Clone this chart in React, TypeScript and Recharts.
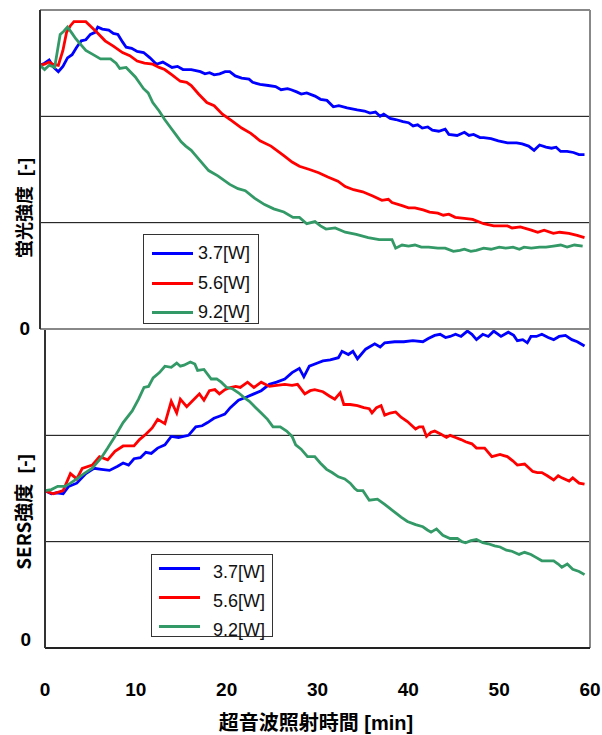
import React from 'react';
import { LineChart, Line, XAxis, YAxis, ReferenceLine } from 'recharts';

// ---- shared labels / categories ----
const timeTicks = [0, 10, 20, 30, 40, 50, 60];
const gridValues = [1, 2];
const seriesNames = ['3.7[W]', '5.6[W]', '9.2[W]'];
const seriesColors = ['#0000FF', '#FF0000', '#339966'];
const xTitle = '超音波照射時間 [min]';
const yTitleTop = '蛍光強度';
const yTitleBottom = 'SERS強度';
const yUnit = '[-]';

// ---- fluorescence intensity (top panel): [time min, value] ----
const fluor37: [number, number][] = [
  [0, 2.48], [0.5, 2.5], [1, 2.53], [1.5, 2.46], [2, 2.42], [2.5, 2.47], [3, 2.55], [3.5, 2.58], [4, 2.65], [4.5, 2.71],
  [5, 2.72], [5.5, 2.77], [6, 2.79], [6.3, 2.84], [6.8, 2.82], [7.5, 2.81], [8, 2.78], [8.5, 2.77], [9, 2.7], [9.4, 2.65],
  [10, 2.64], [10.6, 2.61], [11.3, 2.6], [12, 2.55], [12.7, 2.49], [13.4, 2.51], [14.4, 2.46], [15, 2.47], [15.6, 2.44], [16.5, 2.44],
  [17.5, 2.42], [18, 2.4], [18.5, 2.41], [19, 2.39], [19.6, 2.4], [20.2, 2.42], [20.7, 2.42], [21.3, 2.38], [22, 2.36], [22.8, 2.35],
  [23.2, 2.32], [24, 2.3], [24.9, 2.29], [25.7, 2.28], [26.3, 2.25], [27, 2.26], [27.4, 2.25], [28, 2.23], [28.5, 2.21], [29.1, 2.22],
  [30, 2.19], [30.6, 2.16], [31.3, 2.15], [32, 2.09], [32.6, 2.1], [33.5, 2.08], [34.6, 2.06], [35.4, 2.05], [36, 2.03], [36.6, 2.04],
  [37.1, 2.0], [37.5, 2.02], [38.2, 1.98], [38.8, 1.97], [39.6, 1.95], [40.2, 1.94], [40.7, 1.91], [41.2, 1.92], [41.7, 1.89], [42.3, 1.9],
  [42.8, 1.87], [43.5, 1.86], [44.2, 1.88], [44.6, 1.83], [45.5, 1.82], [46.3, 1.85], [46.8, 1.82], [47.3, 1.83], [48, 1.8], [48.4, 1.8],
  [49.2, 1.79], [50, 1.77], [51, 1.75], [52, 1.75], [52.6, 1.74], [53.3, 1.72], [53.9, 1.68], [54.5, 1.73], [55.2, 1.71], [55.8, 1.7],
  [56.3, 1.71], [56.8, 1.67], [57.5, 1.67], [58.2, 1.66], [58.8, 1.64], [59.4, 1.64],
];
const fluor56: [number, number][] = [
  [0, 2.48], [0.5, 2.49], [1, 2.51], [1.4, 2.49], [2, 2.48], [2.5, 2.62], [2.9, 2.79], [3.3, 2.85], [3.7, 2.89], [4.4, 2.89],
  [5, 2.89], [5.6, 2.84], [6.2, 2.79], [7.1, 2.71], [8, 2.66], [9, 2.6], [9.8, 2.57], [10.6, 2.52], [11.4, 2.5], [12.3, 2.49],
  [13, 2.46], [13.6, 2.44], [14.4, 2.39], [15.3, 2.33], [16, 2.32], [16.5, 2.29], [17.3, 2.21], [18.2, 2.13], [19, 2.1], [19.9, 2.02],
  [20.9, 1.96], [22, 1.89], [23, 1.84], [24, 1.77], [25.2, 1.72], [26.6, 1.63], [27.5, 1.57], [28.3, 1.53], [29.4, 1.5], [30.4, 1.47],
  [31.4, 1.43], [32.5, 1.39], [33.3, 1.34], [34.2, 1.31], [35.2, 1.29], [36.3, 1.25], [37.3, 1.21], [38, 1.22], [38.4, 1.19], [39.5, 1.16],
  [40.2, 1.14], [40.9, 1.14], [41.8, 1.12], [42.5, 1.1], [43.4, 1.09], [44, 1.07], [44.6, 1.08], [45.3, 1.05], [46.3, 1.04], [47.2, 1.03],
  [48.4, 0.99], [49.5, 0.97], [51, 0.97], [51.5, 0.95], [52.4, 0.96], [53.6, 0.93], [54.3, 0.91], [55, 0.93], [56, 0.9], [56.7, 0.91],
  [57.7, 0.9], [58.6, 0.88], [59.4, 0.86],
];
const fluor92: [number, number][] = [
  [0, 2.48], [0.5, 2.44], [1, 2.48], [1.6, 2.46], [2.2, 2.77], [2.6, 2.8], [3, 2.84], [3.5, 2.78], [3.9, 2.73], [4.5, 2.67],
  [5, 2.62], [5.8, 2.58], [6.6, 2.54], [7.7, 2.54], [8.3, 2.5], [8.7, 2.45], [9.4, 2.46], [10.4, 2.37], [11.3, 2.26], [11.8, 2.22],
  [12.3, 2.13], [13, 2.05], [13.6, 1.97], [14.2, 1.9], [14.8, 1.83], [15.4, 1.76], [15.9, 1.72], [16.5, 1.68], [16.9, 1.64], [17.6, 1.57],
  [18.4, 1.49], [19.4, 1.44], [20.7, 1.36], [21.6, 1.32], [22.4, 1.3], [23.4, 1.23], [24.5, 1.17], [25.5, 1.13], [26.6, 1.1], [27.6, 1.05],
  [28.3, 1.05], [29.1, 0.99], [30, 1.01], [30.6, 0.97], [31.2, 0.94], [32.2, 0.95], [33.3, 0.91], [34.5, 0.89], [35.8, 0.86], [37, 0.84],
  [38.4, 0.84], [38.8, 0.76], [39.5, 0.79], [40.2, 0.78], [40.9, 0.79], [41.6, 0.77], [42.4, 0.77], [43.4, 0.76], [44.2, 0.76], [45.1, 0.73],
  [45.8, 0.74], [46.3, 0.75], [47, 0.73], [47.6, 0.74], [48.4, 0.76], [49.2, 0.75], [50.1, 0.77], [50.8, 0.76], [51.6, 0.77], [52.3, 0.75],
  [52.8, 0.77], [53.6, 0.76], [54.5, 0.77], [55.2, 0.77], [56, 0.78], [56.8, 0.79], [57.5, 0.77], [58.3, 0.79], [59.2, 0.78],
];

// ---- SERS intensity (bottom panel): [time min, value] ----
const sers37: [number, number][] = [
  [0, 1.48], [0.7, 1.45], [1.3, 1.46], [2, 1.45], [2.6, 1.52], [3.5, 1.55], [4.5, 1.64], [5.4, 1.69], [6.2, 1.68], [7.1, 1.67],
  [8, 1.71], [8.6, 1.74], [9.2, 1.72], [9.8, 1.78], [10.5, 1.79], [11.1, 1.84], [11.7, 1.83], [12.4, 1.88], [13.2, 1.91], [13.9, 1.99],
  [14.7, 1.98], [15.8, 2.0], [16.6, 2.08], [17.3, 2.09], [17.9, 2.12], [18.6, 2.16], [19.2, 2.18], [19.8, 2.2], [20.4, 2.26], [21.3, 2.33],
  [22.2, 2.36], [23, 2.39], [23.8, 2.42], [24.7, 2.48], [25.5, 2.5], [26.4, 2.53], [27.2, 2.59], [28, 2.63], [28.5, 2.55], [29.1, 2.65],
  [30, 2.68], [30.6, 2.7], [31.4, 2.71], [32.3, 2.73], [32.7, 2.79], [33.4, 2.76], [33.9, 2.79], [34.4, 2.72], [35.3, 2.81], [36.3, 2.86],
  [36.9, 2.83], [37.4, 2.87], [38.5, 2.88], [39.5, 2.88], [40.5, 2.89], [41.6, 2.88], [42.2, 2.91], [42.9, 2.94], [43.5, 2.95], [44.1, 2.92],
  [44.6, 2.93], [45.2, 2.95], [45.8, 2.93], [46.5, 2.98], [47, 2.95], [47.5, 2.9], [48.2, 2.95], [48.8, 2.93], [49.4, 2.98], [50.2, 2.93],
  [51, 2.97], [51.6, 2.94], [52, 2.89], [52.6, 2.9], [53.1, 2.87], [53.5, 2.93], [54.1, 2.93], [54.7, 2.95], [55.4, 2.92], [56, 2.9],
  [56.6, 2.93], [57.3, 2.94], [58, 2.9], [58.6, 2.88], [59.4, 2.84],
];
const sers56: [number, number][] = [
  [0, 1.48], [0.9, 1.45], [2, 1.48], [2.8, 1.64], [3.5, 1.59], [4.1, 1.69], [5.2, 1.72], [6, 1.8], [6.9, 1.77], [7.7, 1.85],
  [8.6, 1.9], [9.8, 1.9], [10.4, 1.96], [11.1, 2.01], [11.8, 2.07], [12.4, 2.15], [13.2, 2.11], [13.9, 2.32], [14.5, 2.21], [14.9, 2.34],
  [15.6, 2.27], [16.3, 2.33], [17, 2.39], [17.5, 2.33], [18.1, 2.42], [18.7, 2.43], [19.2, 2.39], [19.8, 2.43], [20.4, 2.45], [21, 2.46],
  [21.5, 2.45], [22.3, 2.5], [23, 2.45], [23.8, 2.5], [24.7, 2.46], [25.5, 2.47], [26.4, 2.48], [27.2, 2.47], [27.8, 2.48], [28.6, 2.39],
  [29.2, 2.42], [29.7, 2.43], [30.6, 2.41], [31.3, 2.37], [31.9, 2.34], [32.5, 2.4], [32.9, 2.29], [33.6, 2.29], [34.4, 2.28], [35.1, 2.26],
  [35.7, 2.25], [36, 2.21], [36.5, 2.26], [37, 2.28], [37.4, 2.19], [38, 2.21], [38.6, 2.22], [39.2, 2.17], [39.9, 2.13], [40.8, 2.06],
  [41.2, 2.08], [41.6, 2.08], [42, 1.99], [42.5, 2.03], [42.9, 2.04], [43.6, 2.01], [44.2, 1.98], [44.6, 2.0], [45.2, 1.98], [45.8, 1.96],
  [46.3, 1.94], [47, 1.92], [47.5, 1.88], [48.4, 1.88], [49.2, 1.8], [50.1, 1.82], [50.5, 1.81], [50.9, 1.8], [51.5, 1.76], [52, 1.72],
  [52.8, 1.73], [53.7, 1.66], [54.2, 1.65], [54.7, 1.65], [55.3, 1.62], [56, 1.58], [56.5, 1.62], [56.9, 1.6], [57.7, 1.57], [58.1, 1.6],
  [58.8, 1.55], [59.4, 1.54],
];
const sers92: [number, number][] = [
  [0, 1.48], [0.7, 1.49], [1.4, 1.52], [2.2, 1.52], [2.8, 1.55], [3.5, 1.59], [4.3, 1.64], [5.2, 1.69], [6.2, 1.79], [6.9, 1.88],
  [7.7, 1.99], [8.6, 2.12], [9.6, 2.23], [10.3, 2.34], [10.9, 2.45], [11.4, 2.46], [11.9, 2.54], [12.6, 2.59], [13.2, 2.65], [13.9, 2.64],
  [14.5, 2.68], [14.9, 2.65], [15.3, 2.66], [16, 2.69], [16.5, 2.67], [16.8, 2.61], [17.5, 2.62], [18.3, 2.53], [18.9, 2.53], [19.4, 2.5],
  [20, 2.45], [20.6, 2.44], [21.3, 2.4], [22, 2.35], [22.5, 2.32], [23.2, 2.26], [23.8, 2.21], [24.5, 2.15], [25.1, 2.08], [25.9, 2.08],
  [26.6, 2.04], [27.2, 1.99], [27.6, 1.91], [28.2, 1.87], [28.9, 1.8], [29.7, 1.8], [30.3, 1.74], [31, 1.68], [31.6, 1.65], [32.3, 1.61],
  [33, 1.59], [33.6, 1.55], [34.1, 1.5], [34.4, 1.48], [35, 1.48], [35.7, 1.39], [36.6, 1.4], [37.4, 1.35], [38, 1.31], [38.6, 1.27],
  [39.2, 1.23], [39.9, 1.19], [40.8, 1.16], [41.6, 1.14], [42.1, 1.11], [42.5, 1.09], [43.1, 1.12], [43.8, 1.06], [44.6, 1.03], [45.4, 1.03],
  [45.9, 1.0], [46.3, 0.99], [46.9, 1.01], [47.5, 1.02], [48.2, 0.99], [48.8, 0.98], [49.5, 0.96], [50.1, 0.95], [50.8, 0.92], [51.4, 0.91],
  [52.2, 0.88], [52.8, 0.9], [53.5, 0.88], [54.1, 0.85], [54.7, 0.82], [55.4, 0.82], [56, 0.82], [56.5, 0.79], [56.9, 0.76], [57.5, 0.79],
  [58.1, 0.74], [58.8, 0.72], [59.4, 0.69],
];

const fluorSeries = [fluor37, fluor56, fluor92];
const sersSeries = [sers37, sers56, sers92];

const toRows = (pts: [number, number][]) => pts.map(([t, v]) => ({ t, v }));

const LATIN = '"Liberation Sans", Arial, Helvetica, sans-serif';
const CJK = '"Noto Sans CJK JP", "Liberation Sans", sans-serif';

const ZeroTick = (props: any) => {
  const { x, y, payload, shiftX, shiftY } = props;
  return (
    <text x={x + (shiftX || 0)} y={y + (shiftY || 0)} textAnchor="end" dominantBaseline="central"
      fontFamily={LATIN} fontWeight="bold" fontSize={19} fill="#000">
      {payload.value}
    </text>
  );
};

function Panel({ series, top, height, margin, showLabels, zeroShiftX, zeroShiftY, frameColor, bottomAxisColor }: any) {
  return (
    <div style={{ position: 'absolute', left: 0, top }}>
      <LineChart width={602} height={height} margin={margin}>
        <XAxis type="number" dataKey="t" domain={[0, 60]} ticks={timeTicks} height={1} mirror
          tick={false} tickSize={6} tickLine={{ stroke: '#444', strokeWidth: 1 }}
          axisLine={{ stroke: bottomAxisColor, strokeWidth: 2 }} allowDataOverflow />
        {showLabels && (
          <XAxis xAxisId="lbl" type="number" dataKey="t" domain={[0, 60]} ticks={timeTicks} height={1}
            axisLine={false} tickLine={false} tickSize={0} tickMargin={35} allowDataOverflow
            tick={{ fontSize: 19, fontWeight: 'bold', fill: '#000', fontFamily: LATIN }} />
        )}
        <YAxis type="number" domain={[0, 3]} ticks={[0]} width={1} tickLine={false}
          axisLine={{ stroke: '#333', strokeWidth: 2 }}
          tick={<ZeroTick shiftX={zeroShiftX} shiftY={zeroShiftY} />} allowDataOverflow />
        {gridValues.map((g) => (
          <ReferenceLine key={g} y={g} stroke="#000" strokeWidth={1} />
        ))}
        <ReferenceLine y={3} stroke={frameColor} strokeWidth={2} />
        <ReferenceLine x={60} stroke={frameColor} strokeWidth={2} />
        {series.map((pts: [number, number][], i: number) => (
          <Line key={seriesNames[i]} data={toRows(pts)} dataKey="v" name={seriesNames[i]} type="linear"
            stroke={seriesColors[i]} strokeWidth={2.8} dot={false} activeDot={false} isAnimationActive={false} />
        ))}
      </LineChart>
    </div>
  );
}

function LegendBox({ left, top, width, height, rows, lineX0, lineX1, textX, textShift }: any) {
  return (
    <div style={{
      position: 'absolute', left, top, width, height, boxSizing: 'border-box',
      border: '1.5px solid #333', background: '#fff',
    }}>
      {seriesNames.map((name, i) => (
        <React.Fragment key={name}>
          <div style={{ position: 'absolute', left: lineX0, width: lineX1 - lineX0, top: rows[i] - 1.5, height: 3, background: seriesColors[i] }} />
          <div style={{
            position: 'absolute', left: textX, top: rows[i] + textShift - 11, height: 22, lineHeight: '22px',
            fontFamily: LATIN, fontSize: 18, color: '#111', whiteSpace: 'nowrap',
          }}>{name}</div>
        </React.Fragment>
      ))}
    </div>
  );
}

function VTitle({ cx, cy, main, size }: any) {
  return (
    <div style={{
      position: 'absolute', left: cx, top: cy, transform: 'translate(-50%, -50%) rotate(-90deg)',
      whiteSpace: 'pre', fontWeight: 'bold', fontSize: size, fontFamily: CJK, color: '#000', lineHeight: 1,
    }}>
      <span>{main}</span><span style={{ fontFamily: LATIN }}>{'  ' + yUnit}</span>
    </div>
  );
}

export default function App() {
  return (
    <div style={{ position: 'absolute', left: 0, top: 0, width: 602, height: 735, background: '#fff', overflow: 'hidden' }}>
      <Panel series={sersSeries} top={320} height={415} margin={{ top: 9, right: 12, bottom: 86, left: 44 }}
        showLabels zeroShiftX={-6} zeroShiftY={-9} frameColor="#888" bottomAxisColor="#222" />
      <Panel series={fluorSeries} top={0} height={340} margin={{ top: 10, right: 12, bottom: 11, left: 39 }}
        showLabels={false} zeroShiftX={-2} zeroShiftY={-1} frameColor="#888" bottomAxisColor="#888" />
      <LegendBox left={143} top={234} width={116} height={90} rows={[18, 48, 77]} lineX0={8} lineX1={49} textX={54} textShift={0} />
      <LegendBox left={151} top={554} width={122} height={83} rows={[13, 42, 71]} lineX0={7} lineX1={48} textX={61} textShift={4} />
      <VTitle cx={24} cy={208} main={yTitleTop} size={18} />
      <VTitle cx={23} cy={512} main={yTitleBottom} size={19} />
      <div style={{
        position: 'absolute', left: 316, top: 722, transform: 'translate(-50%, -50%)', whiteSpace: 'nowrap',
        fontWeight: 'bold', fontSize: 20, fontFamily: CJK, color: '#000', lineHeight: 1,
      }}>
        <span>{xTitle.split(' ')[0]}</span><span style={{ fontFamily: LATIN }}>{' ' + xTitle.split(' ')[1]}</span>
      </div>
    </div>
  );
}
